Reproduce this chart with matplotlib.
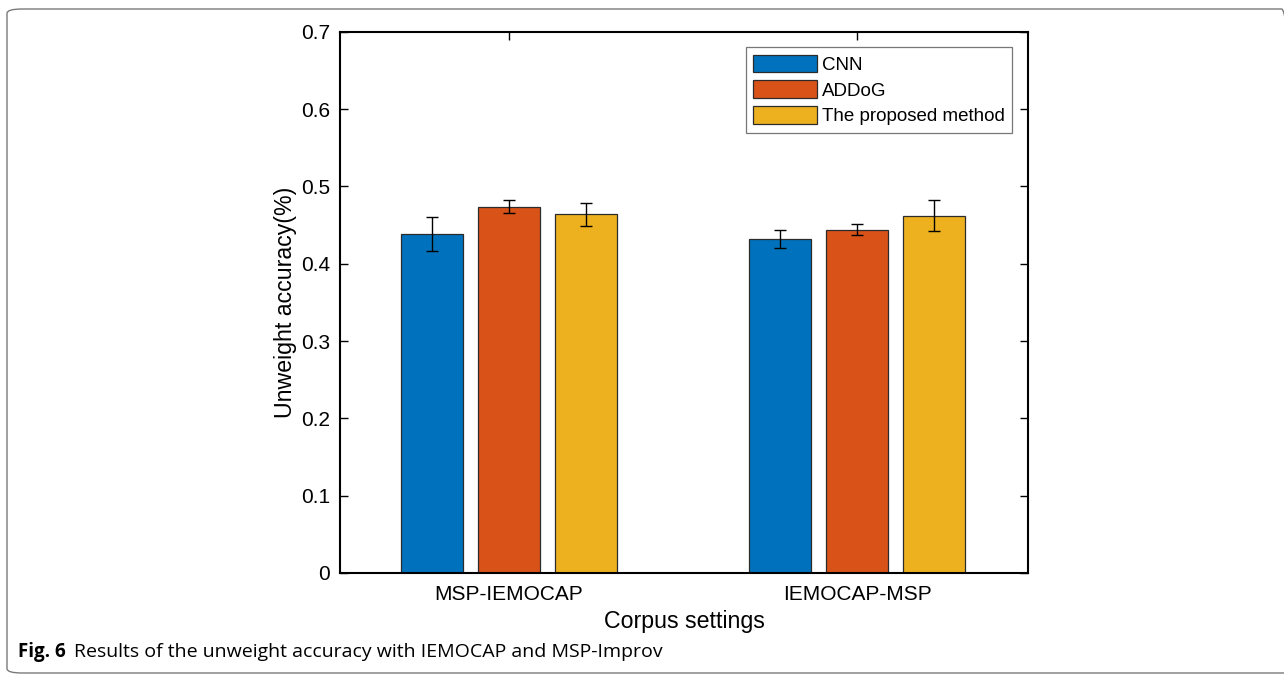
#!/usr/bin/env python3

import numpy as np
import matplotlib.pyplot as plt
from matplotlib.patches import FancyBboxPatch

# unweighted accuracy per corpus setting, with error bar half-widths
settings = ['MSP-IEMOCAP', 'IEMOCAP-MSP']
methods = ['CNN', 'ADDoG', 'The proposed method']
accuracy = {
    'CNN': [0.439, 0.432],
    'ADDoG': [0.474, 0.444],
    'The proposed method': [0.464, 0.462],
}
errors = {
    'CNN': [0.022, 0.012],
    'ADDoG': [0.008, 0.007],
    'The proposed method': [0.015, 0.020],
}
y_ticks = [0, 0.1, 0.2, 0.3, 0.4, 0.5, 0.6, 0.7]
colors = ['#0072BD', '#D95319', '#EDB120']


def plot(output_file):
    plt.rcParams['font.family'] = ['Liberation Sans', 'DejaVu Sans']
    fig = plt.figure(figsize=(12.84, 6.74), dpi=100)
    ax = fig.add_axes([0.2648, 0.1500, 0.5358, 0.8027])

    x = np.arange(1, len(settings) + 1)
    width = 0.178
    offset = 0.221
    for i, m in enumerate(methods):
        pos = x + (i - 1) * offset
        ax.bar(pos, accuracy[m], width, color=colors[i], edgecolor='#2b2b2b',
               linewidth=0.9, label=m, zorder=2)
        ax.errorbar(pos, accuracy[m], yerr=errors[m], fmt='none',
                    ecolor='black', elinewidth=1.0, capsize=4.5,
                    capthick=1.0, zorder=3)

    # limits and ticks
    ax.set_xlim(0.514, 2.491)
    ax.set_ylim(0, 0.7)
    ax.set_xticks(x)
    ax.set_xticklabels(settings)
    ax.set_yticks(y_ticks)
    ax.set_yticklabels(['0' if v == 0 else '%.1f' % v for v in y_ticks])
    ax.tick_params(direction='in', top=True, right=True, length=6,
                   width=1.0, labelsize=15)
    ax.tick_params(axis='y', pad=7)
    ax.tick_params(axis='x', pad=9)
    for s in ax.spines.values():
        s.set_linewidth(1.5)

    # labels
    ax.set_xlabel('Corpus settings', fontsize=16.7, labelpad=4)
    ax.set_ylabel('Unweight accuracy(%)', fontsize=16.7, labelpad=3)

    # legend
    leg = ax.legend(loc='upper right', bbox_to_anchor=(0.977, 0.972),
                    fontsize=13.5, frameon=True, fancybox=False,
                    edgecolor='#555555', handlelength=3.4, handleheight=1.07,
                    handletextpad=0.25, labelspacing=0.35, borderpad=0.4,
                    borderaxespad=0)
    leg.get_frame().set_linewidth(0.9)

    # card border and caption
    border = FancyBboxPatch((7 / 1284, 1 / 674), 1290 / 1284, 664 / 674,
                            boxstyle='round,pad=0,rounding_size=0.012',
                            transform=fig.transFigure, fill=False,
                            edgecolor='#7a7a7a', linewidth=1.0,
                            mutation_aspect=674 / 1284)
    fig.patches.append(border)
    cap_font = ['Open Sans', 'DejaVu Sans']
    fig.text(18 / 1284, 1 - 652 / 674, 'Fig. 6', fontsize=13.5,
             fontweight='bold', family=cap_font, va='center', ha='left')
    fig.text(74 / 1284, 1 - 652 / 674,
             'Results of the unweight accuracy with IEMOCAP and MSP-Improv',
             fontsize=14, family=cap_font, va='center', ha='left')

    plt.savefig(output_file, dpi=100)


def main():
    plot('out.png')


if __name__ == '__main__':
    main()
